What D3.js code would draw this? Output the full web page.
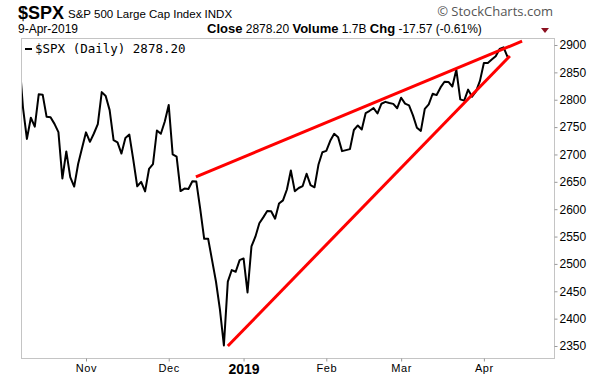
<!DOCTYPE html>
<html>
<head>
<meta charset="utf-8">
<script src="https://cdn.jsdelivr.net/npm/d3@7"></script>
<style>
  body { margin: 0; background: #fff; }
  svg { display: block; font-family: "Liberation Sans", Arial, sans-serif; }
</style>
</head>
<body>
<div id="chart"></div>
<script>
// Trading days shown on the chart, Oct 9 2018 - Apr 9 2019
const dates = [
  "2018-10-09","2018-10-10","2018-10-11","2018-10-12","2018-10-15","2018-10-16","2018-10-17","2018-10-18","2018-10-19",
  "2018-10-22","2018-10-23","2018-10-24","2018-10-25","2018-10-26","2018-10-29","2018-10-30","2018-10-31",
  "2018-11-01","2018-11-02","2018-11-05","2018-11-06","2018-11-07","2018-11-08","2018-11-09","2018-11-12","2018-11-13",
  "2018-11-14","2018-11-15","2018-11-16","2018-11-19","2018-11-20","2018-11-21","2018-11-23","2018-11-26","2018-11-27",
  "2018-11-28","2018-11-29","2018-11-30",
  "2018-12-03","2018-12-04","2018-12-06","2018-12-07","2018-12-10","2018-12-11","2018-12-12","2018-12-13","2018-12-14",
  "2018-12-17","2018-12-18","2018-12-19","2018-12-20","2018-12-21","2018-12-24","2018-12-26","2018-12-27","2018-12-28",
  "2018-12-31",
  "2019-01-02","2019-01-03","2019-01-04","2019-01-07","2019-01-08","2019-01-09","2019-01-10","2019-01-11","2019-01-14",
  "2019-01-15","2019-01-16","2019-01-17","2019-01-18","2019-01-22","2019-01-23","2019-01-24","2019-01-25","2019-01-28",
  "2019-01-29","2019-01-30","2019-01-31",
  "2019-02-01","2019-02-04","2019-02-05","2019-02-06","2019-02-07","2019-02-08","2019-02-11","2019-02-12","2019-02-13",
  "2019-02-14","2019-02-15","2019-02-19","2019-02-20","2019-02-21","2019-02-22","2019-02-25","2019-02-26","2019-02-27",
  "2019-02-28",
  "2019-03-01","2019-03-04","2019-03-05","2019-03-06","2019-03-07","2019-03-08","2019-03-11","2019-03-12","2019-03-13",
  "2019-03-14","2019-03-15","2019-03-18","2019-03-19","2019-03-20","2019-03-21","2019-03-22","2019-03-25","2019-03-26",
  "2019-03-27","2019-03-28","2019-03-29",
  "2019-04-01","2019-04-02","2019-04-03","2019-04-04","2019-04-05","2019-04-08","2019-04-09"
];

const closes = [
  2880.3,2785.7,2728.4,2767.1,2750.8,2809.9,2809.2,2768.8,2767.8,
  2755.9,2740.7,2656.1,2705.6,2658.7,2641.3,2682.6,2711.7,
  2740.4,2723.1,2738.3,2755.5,2813.9,2806.8,2781.0,2726.2,2722.2,
  2701.6,2730.2,2736.3,2690.7,2641.9,2649.9,2632.6,2673.5,2682.2,
  2743.8,2737.8,2760.2,
  2790.4,2700.1,2696.0,2633.1,2637.7,2636.8,2651.1,2650.5,2600.0,
  2545.9,2546.2,2507.0,2467.4,2416.6,2351.1,2467.7,2488.8,2485.7,
  2506.9,
  2510.0,2447.9,2531.9,2549.7,2574.4,2585.0,2596.6,2596.3,2582.6,
  2610.3,2616.1,2636.0,2670.7,2632.9,2638.7,2642.3,2664.8,2643.9,
  2640.0,2681.1,2704.1,
  2706.5,2724.9,2737.7,2731.6,2706.1,2707.9,2709.8,2744.7,2753.0,
  2745.7,2775.6,2779.8,2784.7,2774.9,2792.7,2796.1,2793.9,2792.4,
  2784.5,
  2803.7,2792.8,2789.7,2771.5,2748.9,2743.1,2783.3,2791.5,2810.9,
  2808.5,2822.5,2832.9,2832.6,2824.2,2854.9,2800.7,2798.4,2818.5,
  2805.4,2815.4,2834.4,
  2867.2,2867.2,2873.4,2879.4,2892.7,2895.8,2878.2
];

// Hand drawn trend lines, [trading-day index, price]
const upperTrend = [[44.9, 2659], [127.7, 2907]];
const lowerTrend = [[53.0, 2350], [124.6, 2880]];

const yTicks = [2350, 2400, 2450, 2500, 2550, 2600, 2650, 2700, 2750, 2800, 2850, 2900];
const monthNames = ["Jan","Feb","Mar","Apr","May","Jun","Jul","Aug","Sep","Oct","Nov","Dec"];

const width = 612, height = 378;
const margin = { top: 38, right: 58, bottom: 20, left: 21 };

const svg = d3.select('#chart').append('svg')
    .attr('width', width)
    .attr('height', height);

const x = d3.scaleLinear()
    .domain([0.5, 135.8])
    .range([margin.left, width - margin.right]);

const y = d3.scaleLinear()
    .domain([2328.1, 2912.8])
    .range([height - margin.bottom, margin.top]);

// first trading day of each month (after the start) gets a tick
const monthStarts = [];
dates.forEach((d, i) => {
    if (i > 0 && d.slice(5, 7) !== dates[i - 1].slice(5, 7)) monthStarts.push(i);
});

// Header
const head = svg.append('g').attr('fill', '#000');
head.append('text').attr('x', 18).attr('y', 19)
    .attr('font-size', 18).attr('font-weight', 'bold').text('$SPX');
head.append('text').attr('x', 68).attr('y', 18)
    .attr('font-size', 11.5).text('S&P 500 Large Cap Index INDX');
head.append('text').attr('x', 18).attr('y', 33)
    .attr('font-size', 12).text('9-Apr-2019');

const info = head.append('text').attr('x', 207).attr('y', 33).attr('font-size', 12);
info.append('tspan').attr('font-weight', 'bold').attr('font-size', 13).text('Close');
info.append('tspan').text(' 2878.20  ');
info.append('tspan').attr('font-weight', 'bold').attr('font-size', 13).text('Volume');
info.append('tspan').text(' 1.7B  ');
info.append('tspan').attr('font-weight', 'bold').attr('font-size', 13).text('Chg');
info.append('tspan').text(' -17.57 (-0.61%)');

svg.append('path')
    .attr('d', 'M541,28 L549,28 L545,33 Z')
    .attr('fill', '#8b1020');

svg.append('text').attr('x', 553).attr('y', 16)
    .attr('text-anchor', 'end')
    .attr('font-size', 13)
    .attr('fill', '#555')
    .attr('font-family', '"Open Sans", "DejaVu Sans", sans-serif')
    .text('\u00a9 StockCharts.com');

// Plot frame
svg.append('rect')
    .attr('x', margin.left + 0.5)
    .attr('y', margin.top + 0.5)
    .attr('width', width - margin.left - margin.right)
    .attr('height', height - margin.top - margin.bottom)
    .attr('fill', 'none')
    .attr('stroke', '#c4c4c4');

svg.append('clipPath').attr('id', 'plot-clip')
    .append('rect')
    .attr('x', margin.left + 1)
    .attr('y', margin.top + 1)
    .attr('width', width - margin.left - margin.right - 1)
    .attr('height', height - margin.top - margin.bottom - 1);

// Axes
const yAxis = svg.append('g')
    .attr('transform', `translate(${width - margin.right + 0.5},0)`)
    .call(d3.axisRight(y).tickValues(yTicks).tickSize(3).tickPadding(2).tickFormat(d3.format('d')));
yAxis.select('.domain').remove();
yAxis.selectAll('line').attr('stroke', '#999');
yAxis.selectAll('text').attr('font-size', 12).attr('font-family', '"Liberation Sans", Arial, sans-serif').attr('fill', '#000');

const xAxis = svg.append('g')
    .attr('transform', `translate(0,${height - margin.bottom + 0.5})`)
    .call(d3.axisBottom(x).tickValues(monthStarts).tickSize(3).tickPadding(3)
        .tickFormat(i => {
            const m = +dates[i].slice(5, 7) - 1;
            return m === 0 ? dates[i].slice(0, 4) : monthNames[m];
        }));
xAxis.select('.domain').remove();
xAxis.selectAll('line').attr('stroke', '#999');
xAxis.selectAll('text')
    .attr('font-family', '"Liberation Sans", Arial, sans-serif')
    .attr('fill', '#000')
    .attr('font-size', i => dates[i].slice(5, 7) === '01' ? 14 : 11)
    .attr('font-weight', i => dates[i].slice(5, 7) === '01' ? 'bold' : 'normal')
    .attr('letter-spacing', i => dates[i].slice(5, 7) === '01' ? 0 : 0.6);

// Price line
const line = d3.line()
    .x((d, i) => x(i))
    .y(d => y(d));

svg.append('path')
    .datum(closes)
    .attr('clip-path', 'url(#plot-clip)')
    .attr('fill', 'none')
    .attr('stroke', '#000')
    .attr('stroke-width', 2)
    .attr('stroke-linejoin', 'round')
    .attr('d', line);

// Trend lines
const trend = d3.line().x(d => x(d[0])).y(d => y(d[1]));
[upperTrend, lowerTrend].forEach(t => {
    svg.append('path')
        .datum(t)
        .attr('fill', 'none')
        .attr('stroke', '#f00')
        .attr('stroke-width', 3)
        .attr('d', trend);
});

// Legend
svg.append('line')
    .attr('x1', 25).attr('x2', 32)
    .attr('y1', 49).attr('y2', 49)
    .attr('stroke', '#000').attr('stroke-width', 2);
svg.append('text')
    .attr('x', 35).attr('y', 53)
    .attr('font-family', '"DejaVu Sans Mono", monospace')
    .attr('font-size', 12.5)
    .text('$SPX (Daily) 2878.20');
</script>
</body>
</html>
